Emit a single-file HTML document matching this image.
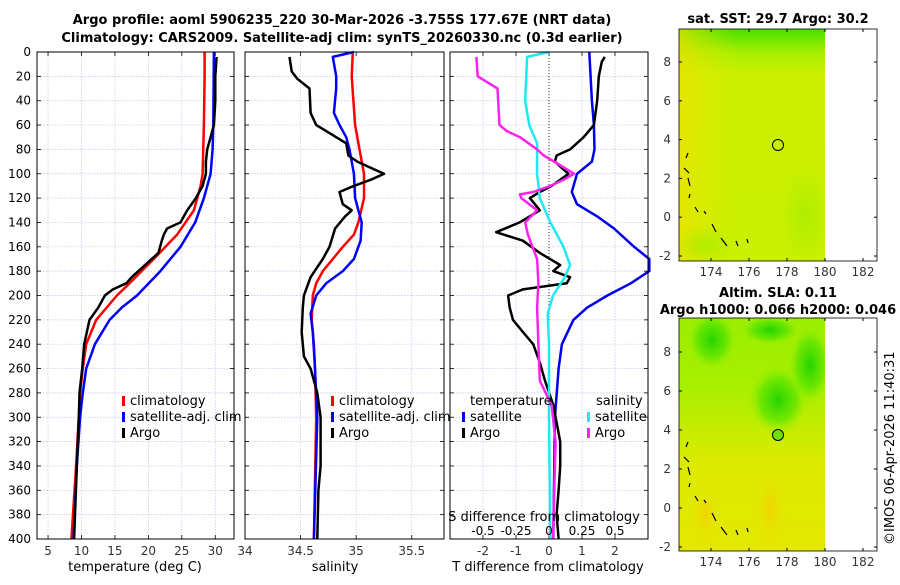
<!DOCTYPE html>
<html><head><meta charset="utf-8"><style>
body{margin:0;background:#fff;width:900px;height:580px;overflow:hidden}
svg text{font-family:"DejaVu Sans","Liberation Sans",sans-serif}
</style></head><body>
<svg id="s" width="900" height="580" viewBox="0 0 900 580" xmlns="http://www.w3.org/2000/svg">
<defs>
<radialGradient id="gBlob" cx="50%" cy="50%" r="50%"><stop offset="0" stop-color="#22d400"/><stop offset="0.6" stop-color="#55e400" stop-opacity="0.7"/><stop offset="1" stop-color="#9cf000" stop-opacity="0"/></radialGradient>
<radialGradient id="lgBlob" cx="50%" cy="50%" r="50%"><stop offset="0" stop-color="#a8ec00" stop-opacity="0.8"/><stop offset="1" stop-color="#a8ec00" stop-opacity="0"/></radialGradient>
<radialGradient id="oBlob" cx="50%" cy="50%" r="50%"><stop offset="0" stop-color="#f0d400"/><stop offset="1" stop-color="#e8e400" stop-opacity="0"/></radialGradient>
<linearGradient id="sstG" x1="0" y1="0" x2="0" y2="1"><stop offset="0" stop-color="#44e000"/><stop offset="0.1" stop-color="#a8ee00"/><stop offset="0.2" stop-color="#ccf000"/><stop offset="1" stop-color="#c8f000"/></linearGradient>
<linearGradient id="sstX" x1="0" y1="0" x2="1" y2="0"><stop offset="0" stop-color="#f0e000" stop-opacity="0.7"/><stop offset="0.4" stop-color="#e6ea00" stop-opacity="0"/></linearGradient>
<linearGradient id="slaG" x1="0" y1="0" x2="0" y2="1"><stop offset="0" stop-color="#9cee00"/><stop offset="0.3" stop-color="#a8ee00"/><stop offset="0.5" stop-color="#c8ec00"/><stop offset="0.62" stop-color="#dcea00"/><stop offset="1" stop-color="#e4e800"/></linearGradient>
<clipPath id="c1"><rect x="679" y="29" width="146" height="232"/></clipPath>
<clipPath id="c2"><rect x="679" y="318" width="146" height="233"/></clipPath>
</defs>
<text x="342" y="24" text-anchor="middle" font-size="13" font-weight="bold">Argo profile: aoml 5906235_220 30-Mar-2026 -3.755S 177.67E (NRT data)</text>
<text x="342" y="42" text-anchor="middle" font-size="13" font-weight="bold">Climatology: CARS2009. Satellite-adj clim: synTS_20260330.nc (0.3d earlier)</text>
<g>
<text x="778" y="23" text-anchor="middle" font-size="13" font-weight="bold">sat. SST: 29.7 Argo: 30.2</text>
<g clip-path="url(#c1)">
<rect x="679" y="29" width="146" height="232" fill="url(#sstG)"/>
<rect x="679" y="29" width="146" height="232" fill="url(#sstX)"/>
<ellipse cx="705" cy="245" rx="30" ry="20" fill="url(#lgBlob)"/>
<ellipse cx="805" cy="215" rx="25" ry="45" fill="url(#lgBlob)"/>
</g>
<rect x="679" y="29" width="198" height="232" fill="none" stroke="#000" stroke-width="0.8"/>
<circle cx="778" cy="145" r="5.5" fill="none" stroke="#000" stroke-width="1"/>
</g>
<g>
<text x="778" y="297" text-anchor="middle" font-size="13" font-weight="bold">Altim. SLA: 0.11</text>
<text x="778" y="314" text-anchor="middle" font-size="13" font-weight="bold">Argo h1000: 0.066 h2000: 0.046</text>
<g clip-path="url(#c2)">
<rect x="679" y="318" width="146" height="233" fill="url(#slaG)"/>
<ellipse cx="712" cy="340" rx="25" ry="30" fill="url(#gBlob)"/>
<ellipse cx="778" cy="400" rx="30" ry="35" fill="url(#gBlob)"/>
<ellipse cx="810" cy="365" rx="22" ry="40" fill="url(#gBlob)"/>
<ellipse cx="770" cy="330" rx="30" ry="15" fill="url(#gBlob)"/>
<ellipse cx="705" cy="515" rx="15" ry="30" fill="url(#oBlob)"/>
<ellipse cx="770" cy="510" rx="15" ry="40" fill="url(#oBlob)"/>
</g>
<rect x="679" y="318" width="198" height="233" fill="none" stroke="#000" stroke-width="0.8"/>
<circle cx="778" cy="435" r="5.5" fill="#6ee000" stroke="#000" stroke-width="1"/>
</g>
<text transform="translate(894,545) rotate(-90)" font-size="13">©IMOS 06-Apr-2026 11:40:31</text>
<g id="plots"></g>
</svg>
<script>
var depthTicks=[0,20,40,60,80,100,120,140,160,180,200,220,240,260,280,300,320,340,360,380,400];
var tClimD=[0,20,60,100,110,130,150,170,190,200,220,240,260,280,300,340,400];
var tClimV=[28.4,28.4,28.3,28.1,27.8,26.8,24.3,20.8,17.2,15.3,12.2,10.7,10.2,9.8,9.6,9.2,8.5];
var tSatD=[0,60,80,100,120,140,160,180,200,210,220,240,260,280,300,340,400];
var tSatV=[29.8,29.7,29.6,29.3,28.3,27,24.8,21.8,18.3,16,14.2,12,10.7,10.2,9.8,9.3,8.8];
var tArgoD=[4,20,40,60,70,80,90,100,110,120,130,140,145,150,155,165,175,185,190,195,200,210,220,240,260,280,300,340,400];
var tArgoV=[30.2,30.0,30.0,29.8,29.3,28.8,28.6,28.6,28.1,27.1,25.8,24.8,22.8,22.3,22,21.5,19.5,17.5,16.7,14.7,13.5,12.5,11.2,10.4,10.1,9.7,9.6,9.3,8.9];
var sClimD=[0,20,60,80,100,120,140,150,160,170,180,190,200,220,240,260,300,400];
var sClimV=[34.97,34.96,34.99,35.03,35.07,35.07,35.02,34.98,34.88,34.79,34.7,34.64,34.61,34.6,34.62,34.63,34.64,34.62];
var sSatD=[0,4,20,30,50,60,70,80,100,120,130,140,155,170,180,190,200,215,230,260,300,400];
var sSatV=[34.98,34.79,34.82,34.82,34.8,34.85,34.91,34.94,34.98,34.99,35.02,35.05,35.04,34.98,34.88,34.73,34.64,34.59,34.61,34.63,34.65,34.62];
var sArgoD=[4,16,22,30,50,60,65,70,75,85,90,95,100,105,110,115,125,130,135,145,160,170,185,200,210,230,250,260,280,300,340,360,400];
var sArgoV=[34.40,34.42,34.47,34.58,34.59,34.64,34.73,34.82,34.91,34.93,35.01,35.13,35.25,35.13,34.98,34.85,34.88,34.96,34.9,34.81,34.76,34.7,34.59,34.53,34.52,34.51,34.53,34.59,34.65,34.68,34.68,34.66,34.65];
var dTSatD=[0,40,60,80,90,100,115,125,135,145,160,170,180,190,200,210,220,240,260,300,400];
var dTSatV=[1.22,1.3,1.36,1.38,1.3,0.85,0.69,0.85,1.46,1.97,2.58,3.04,3.04,2.48,1.77,1.15,0.74,0.39,0.29,0.18,0.13];
var dTArgoD=[4,8,20,40,60,70,80,85,90,95,100,105,110,115,120,130,140,148,155,165,175,180,185,190,195,200,210,220,230,240,255,270,290,320,340,360,380,400];
var dTArgoV=[1.69,1.6,1.51,1.46,1.36,1.05,0.64,0.23,0.18,0.38,0.59,0.34,0.08,-0.28,-0.58,-0.28,-0.89,-1.6,-0.79,-0.28,0.34,0.13,0.64,0.54,-0.79,-1.24,-1.19,-1.09,-0.79,-0.48,-0.28,-0.12,0.13,0.34,0.34,0.29,0.23,0.29];
var dSSatD=[0,4,40,60,75,100,120,140,160,175,185,200,215,240,300,400];
var dSSatV=[0,-0.166,-0.18,-0.15,-0.09,-0.09,-0.07,0.01,0.11,0.16,0.12,0.03,-0.01,0,0,0.01];
var dSArgoD=[4,20,24,30,60,65,70,80,85,92,100,105,110,115,117,120,130,140,150,170,190,210,240,270,290,320,400];
var dSArgoV=[-0.55,-0.54,-0.48,-0.39,-0.375,-0.32,-0.22,-0.09,-0.04,0.07,0.19,0.11,0.01,-0.12,-0.22,-0.21,-0.09,-0.18,-0.16,-0.09,-0.08,-0.09,-0.08,-0.07,0.02,0.05,0.03];
var tTicks=[5,10,15,20,25,30];
var sTicks=[34,34.5,35,35.5];
var dTTicks=[-2,-1,0,1,2];
var dSTicks=[-0.5,-0.25,0,0.25,0.5];
var dSTickLabels=["-0.5","-0.25","0","0.25","0.5"];

var NS="http://www.w3.org/2000/svg";
var root=document.getElementById('plots');
var Y0=52,Y1=539;
function yS(d){return Y0+(Y1-Y0)*d/400;}
function mk(tag,attrs,parent){var e=document.createElementNS(NS,tag);for(var k in attrs)e.setAttribute(k,attrs[k]);(parent||root).appendChild(e);return e;}
function panel(x0,x1,lo,hi,name,showY){
  var g=mk('g',{});
  
  
  var xs=function(v){return x0+(x1-x0)*(v-lo)/(hi-lo);};
  depthTicks.forEach(function(d){
    if(d>0&&d<400){var l=mk('line',{x1:x0,x2:x1,y1:yS(d),y2:yS(d),stroke:'#b8c4e8','stroke-width':0.7,'stroke-dasharray':'1.5,1.5'},g);
    
    }
    mk('line',{x1:x0,x2:x0+4,y1:yS(d),y2:yS(d),stroke:'#000','stroke-width':0.8},g);
    mk('line',{x1:x1-4,x2:x1,y1:yS(d),y2:yS(d),stroke:'#000','stroke-width':0.8},g);
    if(showY){var t=mk('text',{x:x0-6,y:yS(d)+4,'text-anchor':'end','font-size':12},g);t.textContent=d;
    
    }
  });
  return {g:g,xs:xs};
}
function vgrid(p,ticks,labels,ly,x0,x1){
  ticks.forEach(function(v,i){
    var x=p.xs(v);
    if(x>x0+1&&x<x1-1){var l=mk('line',{x1:x,x2:x,y1:Y0,y2:Y1,stroke:'#b8c4e8','stroke-width':0.7,'stroke-dasharray':'1.5,1.5'},p.g);
    
    }
    mk('line',{x1:x,x2:x,y1:Y1,y2:Y1-4,stroke:'#000','stroke-width':0.8},p.g);
    mk('line',{x1:x,x2:x,y1:Y0,y2:Y0+4,stroke:'#000','stroke-width':0.8},p.g);
    if(labels){var t=mk('text',{x:x,y:ly,'text-anchor':'middle','font-size':12,fill:'#333'},p.g);t.textContent=labels[i];
    
    }
  });
}
function line(p,D,V,col,name,sc){
  var pts=D.map(function(d,i){return p.xs(V[i]*(sc||1)).toFixed(1)+','+yS(d).toFixed(1);}).join(' ');
  var l=mk('polyline',{points:pts,fill:'none',stroke:col,'stroke-width':2.5,'stroke-linejoin':'round'},p.g);
  
  
}
function frame(p,x0,x1){mk('rect',{x:x0,y:Y0,width:x1-x0,height:Y1-Y0,fill:'none',stroke:'#000','stroke-width':1},p.g);}
function leg(p,x,y,col,txt,name){
  mk('rect',{x:x,y:y-9,width:3,height:10,fill:col},p.g);
  var t=mk('text',{x:x+8,y:y,'font-size':13},p.g);t.textContent=txt;
  
  
}
function lab(x,y,txt,name){var t=mk('text',{x:x,y:y,'text-anchor':'middle','font-size':13});t.textContent=txt;
  
  }

var p1=panel(37,234,3.35,32.8,'temperature-panel',true);
vgrid(p1,tTicks,tTicks.map(String),555,37,234);
line(p1,tClimD,tClimV,'#ff0000','temp-climatology-line');
line(p1,tSatD,tSatV,'#0000ff','temp-satellite-line');
line(p1,tArgoD,tArgoV,'#000','temp-argo-line');
frame(p1,37,234);
leg(p1,122,405,'#ff0000','climatology','legend-climatology');
leg(p1,122,421,'#0000ff','satellite-adj. clim','legend-satellite');
leg(p1,122,437,'#000','Argo','legend-argo');
lab(135,571,'temperature (deg C)','x-axis-title-temperature');

var p2=panel(245,444,34,35.79,'salinity-panel',false);
vgrid(p2,sTicks,['34','34.5','35','35.5'],555,245,444);
line(p2,sClimD,sClimV,'#ff0000','sal-climatology-line');
line(p2,sSatD,sSatV,'#0000ff','sal-satellite-line');
line(p2,sArgoD,sArgoV,'#000','sal-argo-line');
frame(p2,245,444);
leg(p2,331,405,'#ff0000','climatology','legend-climatology');
leg(p2,331,421,'#0000ff','satellite-adj. clim','legend-satellite');
leg(p2,331,437,'#000','Argo','legend-argo');
lab(335,571,'salinity','x-axis-title-salinity');

var p3=panel(450,648,-3,3,'difference-panel',false);
vgrid(p3,dTTicks,['-2','-1','0','1','2'],555,450,648);
var zx=p3.xs(0);
mk('line',{x1:zx,x2:zx,y1:Y0,y2:Y1,stroke:'#333','stroke-width':1,'stroke-dasharray':'1,2'},p3.g);
line(p3,dTSatD,dTSatV,'#0000ee','tdiff-satellite-line');
line(p3,dTArgoD,dTArgoV,'#000','tdiff-argo-line');
line(p3,dSSatD,dSSatV,'#22e8f0','sdiff-satellite-line',4);
line(p3,dSArgoD,dSArgoV,'#ff22ee','sdiff-argo-line',4);
frame(p3,450,648);
var tt=mk('text',{x:470,y:405,'font-size':13},p3.g);tt.textContent='temperature';


var st=mk('text',{x:596,y:405,'font-size':13},p3.g);st.textContent='salinity';


leg(p3,462,421,'#0000ee','satellite','legend-t-satellite');
leg(p3,462,437,'#000','Argo','legend-t-argo');
leg(p3,587,421,'#22e8f0','satellite','legend-s-satellite');
leg(p3,587,437,'#ff22ee','Argo','legend-s-argo');
lab(544,521,'S difference from climatology','s-axis-title');
dSTicks.forEach(function(v,i){var t=mk('text',{x:p3.xs(v*4),y:535,'text-anchor':'middle','font-size':12},p3.g);t.textContent=dSTickLabels[i];

});
lab(548,571,'T difference from climatology','x-axis-title-tdiff');

var lonTicks=[174,176,178,180,182];
var latTicks=[-2,0,2,4,6,8];
function mapAxes(top,bot,lat8,latm2,name){
  var g=mk('g',{});
  
  
  var lx=function(v){return 711+(v-174)*19;};
  var ly=function(v){return latm2+(v+2)*(lat8-latm2)/10;};
  lonTicks.forEach(function(v){var x=lx(v);
    mk('line',{x1:x,x2:x,y1:bot,y2:bot-3,stroke:'#000'},g);mk('line',{x1:x,x2:x,y1:top,y2:top+3,stroke:'#000'},g);
    var t=mk('text',{x:x,y:bot+15,'text-anchor':'middle','font-size':12,fill:'#333'},g);t.textContent=v;
    
    });
  latTicks.forEach(function(v){var y=ly(v);
    mk('line',{x1:679,x2:682,y1:y,y2:y,stroke:'#000'},g);mk('line',{x1:874,x2:877,y1:y,y2:y,stroke:'#000'},g);
    var t=mk('text',{x:671,y:y+4,'text-anchor':'end','font-size':12,fill:'#333'},g);t.textContent=v;
    
    });
  [[686,158,688,153],[684,168,689,173],[688,178,690,186],[690,194,689,198],[695,207,698,212],[704,211,706,214],[712,224,716,232],[721,238,727,246],[736,241,738,246],[747,239,748,243]].forEach(function(c){
    mk('line',{x1:c[0],y1:c[1]+(top-29),x2:c[2],y2:c[3]+(top-29),stroke:'#000','stroke-width':1.2},g);});
}
mapAxes(29,261,62,256,'sst-map-axes');
mapAxes(318,551,352,547,'sla-map-axes');
</script>
</body></html>
